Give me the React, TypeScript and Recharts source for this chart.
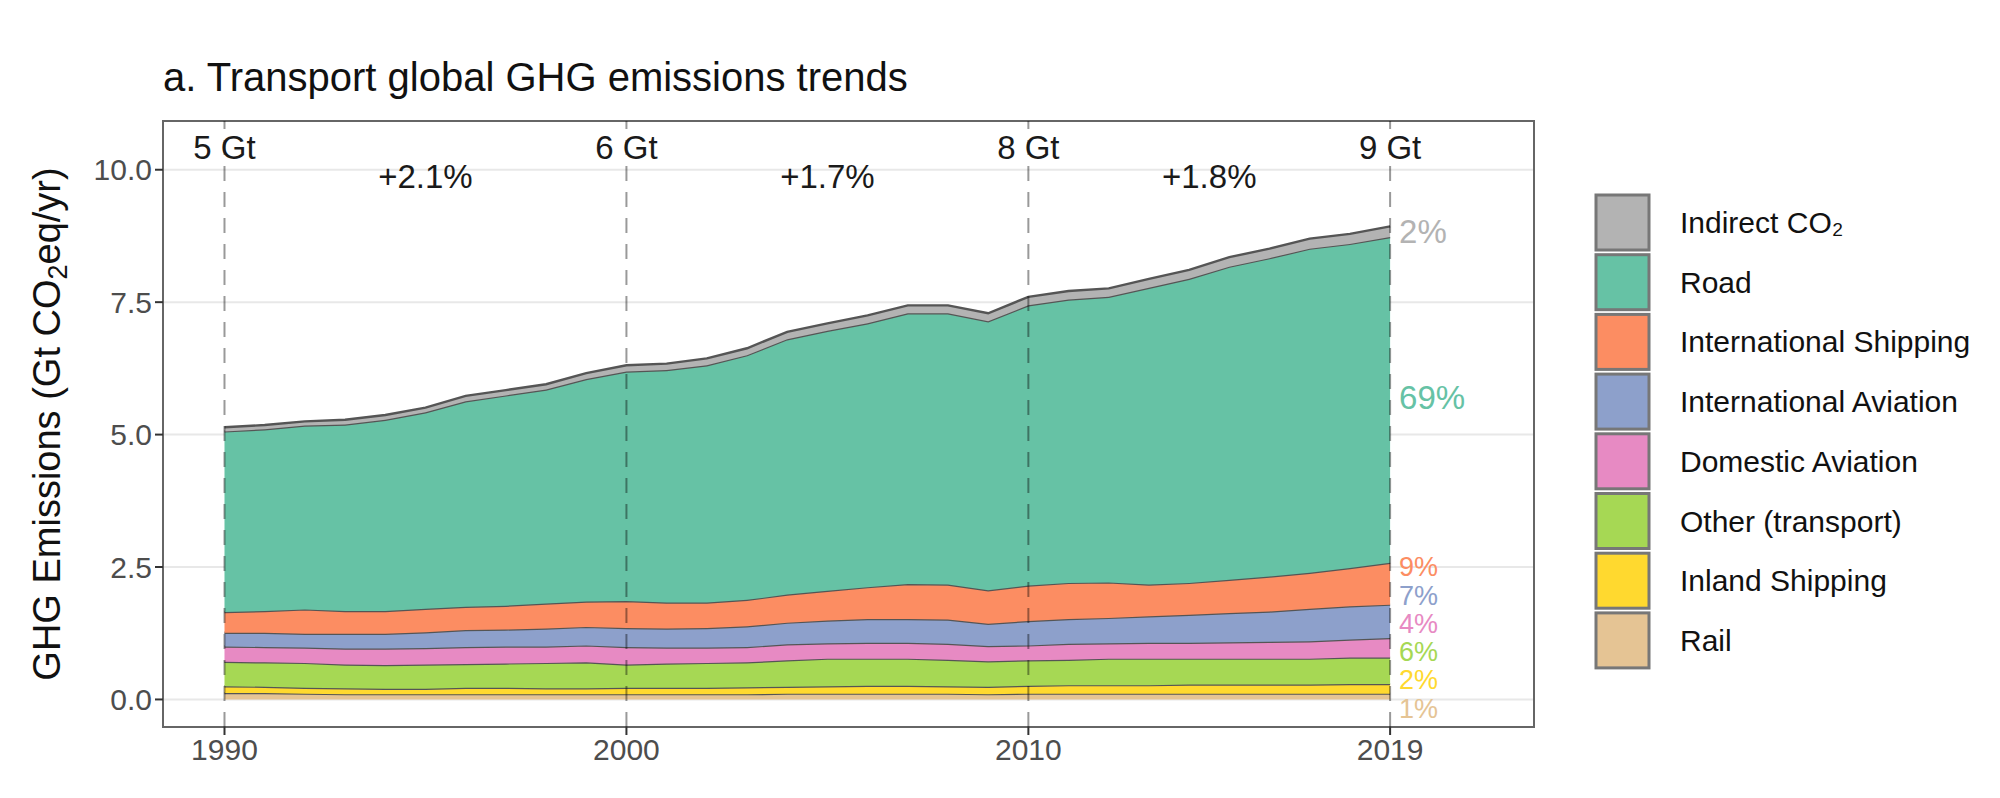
import {
  AreaChart,
  Area,
  XAxis,
  YAxis,
  CartesianGrid,
  ReferenceLine,
  ReferenceDot,
  ReferenceArea,
} from "recharts";

const years = [
  1990, 1991, 1992, 1993, 1994, 1995, 1996, 1997, 1998, 1999,
  2000, 2001, 2002, 2003, 2004, 2005, 2006, 2007, 2008, 2009,
  2010, 2011, 2012, 2013, 2014, 2015, 2016, 2017, 2018, 2019,
];

// Gt CO2eq/yr (bottom to top)
const rail = [
  0.12, 0.12, 0.11, 0.1, 0.1, 0.1, 0.1, 0.1, 0.1, 0.1,
  0.1, 0.1, 0.1, 0.1, 0.11, 0.11, 0.11, 0.11, 0.11, 0.1,
  0.11, 0.11, 0.11, 0.11, 0.11, 0.11, 0.11, 0.11, 0.11, 0.11,
];
const inlandShipping = [
  0.13, 0.12, 0.11, 0.11, 0.1, 0.1, 0.12, 0.12, 0.11, 0.11,
  0.12, 0.12, 0.12, 0.13, 0.13, 0.14, 0.15, 0.15, 0.14, 0.14,
  0.15, 0.16, 0.16, 0.16, 0.17, 0.17, 0.17, 0.17, 0.18, 0.18,
];
const otherTransport = [
  0.46, 0.46, 0.47, 0.45, 0.45, 0.46, 0.45, 0.46, 0.48, 0.49,
  0.44, 0.46, 0.47, 0.47, 0.5, 0.52, 0.51, 0.51, 0.5, 0.48,
  0.48, 0.48, 0.5, 0.5, 0.49, 0.49, 0.49, 0.49, 0.5, 0.5,
];
const domesticAviation = [
  0.29, 0.29, 0.29, 0.3, 0.31, 0.31, 0.32, 0.32, 0.31, 0.32,
  0.33, 0.3, 0.29, 0.29, 0.3, 0.29, 0.3, 0.3, 0.3, 0.29,
  0.28, 0.3, 0.29, 0.3, 0.3, 0.31, 0.32, 0.33, 0.34, 0.37,
];
const intlAviation = [
  0.26, 0.27, 0.26, 0.28, 0.28, 0.3, 0.32, 0.32, 0.34, 0.35,
  0.36, 0.36, 0.37, 0.39, 0.41, 0.43, 0.45, 0.45, 0.46, 0.42,
  0.46, 0.47, 0.48, 0.5, 0.53, 0.55, 0.57, 0.61, 0.63, 0.63,
];
const intlShipping = [
  0.39, 0.41, 0.46, 0.43, 0.43, 0.44, 0.44, 0.45, 0.47, 0.48,
  0.51, 0.49, 0.48, 0.5, 0.53, 0.56, 0.6, 0.66, 0.66, 0.63,
  0.67, 0.68, 0.67, 0.6, 0.6, 0.63, 0.66, 0.68, 0.72, 0.79,
];
const road = [
  3.41, 3.43, 3.47, 3.52, 3.61, 3.71, 3.88, 3.97, 4.04, 4.2,
  4.33, 4.39, 4.48, 4.62, 4.82, 4.91, 4.98, 5.11, 5.12, 5.08,
  5.29, 5.35, 5.39, 5.6, 5.74, 5.91, 6.01, 6.12, 6.12, 6.15,
];
const indirectCO2 = [
  0.08, 0.08, 0.08, 0.09, 0.09, 0.09, 0.1, 0.1, 0.1, 0.11,
  0.12, 0.12, 0.13, 0.13, 0.14, 0.14, 0.15, 0.15, 0.15, 0.15,
  0.16, 0.16, 0.16, 0.17, 0.17, 0.18, 0.18, 0.19, 0.19, 0.2,
];

// stacking order, bottom first
const seriesKeys = ["rail", "inland", "other", "domAv", "intAv", "intShip", "road", "indirect"];
const seriesNames = [
  "Rail",
  "Inland Shipping",
  "Other (transport)",
  "Domestic Aviation",
  "International Aviation",
  "International Shipping",
  "Road",
  "Indirect CO₂",
];
const seriesValues = [rail, inlandShipping, otherTransport, domesticAviation, intlAviation, intlShipping, road, indirectCO2];
const shares2019 = ["1%", "2%", "6%", "4%", "7%", "9%", "69%", "2%"];

const milestoneYears = [1990, 2000, 2010, 2019];
const milestoneTotals = ["5 Gt", "6 Gt", "8 Gt", "9 Gt"];
const growthMidYears = [1995, 2005, 2014.5];
const growthRates = ["+2.1%", "+1.7%", "+1.8%"];

const xTicks = [1990, 2000, 2010, 2019];
const yTicks = [0, 2.5, 5, 7.5, 10];

const colors = ["#e5c494", "#ffd92f", "#a6d854", "#e78ac3", "#8da0cb", "#fc8d62", "#66c2a5", "#b3b3b3"];

// label layout (y in data units)
const shareLabelY = [-0.17, 0.37, 0.9, 1.44, 1.97, 2.51, 5.71, 8.84];
const totalLabelY = 10.42;
const growthLabelY = 9.88;

const FONT = "'Liberation Sans', Arial, Helvetica, sans-serif";

const data = years.map((year, i) => {
  const row: Record<string, number> = { year };
  seriesKeys.forEach((k, s) => {
    row[k] = seriesValues[s][i];
  });
  return row;
});

const Overlay = () => {
  const legendOrder = [7, 6, 5, 4, 3, 2, 1, 0];
  return (
    <svg
      width={2000}
      height={798}
      style={{ position: "absolute", left: 0, top: 0, pointerEvents: "none" }}
    >
      <text x={163} y={91} fontSize={40} fill="#111" fontFamily={FONT}>
        a. Transport global GHG emissions trends
      </text>
      <text
        x={60}
        y={424}
        transform="rotate(-90 60 424)"
        textAnchor="middle"
        fontSize={38}
        fill="#111"
        fontFamily={FONT}
      >
        GHG Emissions (Gt CO
        <tspan fontSize={27} dy={7}>2</tspan>
        <tspan dy={-7}>eq/yr)</tspan>
      </text>
      {legendOrder.map((s, i) => (
        <g key={seriesKeys[s]}>
          <rect
            x={1596}
            y={195 + i * 59.7}
            width={53}
            height={55}
            fill={colors[s]}
            stroke="#777"
            strokeWidth={3}
          />
          <text
            x={1680}
            y={222.5 + i * 59.7}
            dominantBaseline="central"
            fontSize={30}
            fill="#111"
            fontFamily={FONT}
          >
            {seriesNames[s]}
          </text>
        </g>
      ))}
    </svg>
  );
};

export default function App() {
  return (
    <div
      style={{
        position: "absolute",
        left: 0,
        top: 0,
        width: 2000,
        height: 798,
        background: "#fff",
      }}
    >
      <AreaChart
        width={2000}
        height={798}
        data={data}
        margin={{ top: 121, right: 466, bottom: 21, left: 103 }}
      >
        <CartesianGrid vertical={false} stroke="#e8e8e8" strokeWidth={2} />
        <XAxis
          type="number"
          dataKey="year"
          domain={[1988.47, 2022.58]}
          allowDataOverflow
          ticks={xTicks}
          axisLine={false}
          tickLine={{ stroke: "#333", strokeWidth: 2 }}
          tickSize={8}
          tickMargin={4}
          height={50}
          tick={{ fill: "#4d4d4d", fontSize: 30, fontFamily: FONT }}
        />
        <YAxis
          type="number"
          domain={[-0.52, 10.92]}
          allowDataOverflow
          ticks={yTicks}
          tickFormatter={(v: number) => v.toFixed(1)}
          axisLine={false}
          tickLine={{ stroke: "#333", strokeWidth: 2 }}
          tickSize={8}
          tickMargin={3}
          width={60}
          tick={{ fill: "#4d4d4d", fontSize: 30, fontFamily: FONT }}
        />
        {seriesKeys.map((k, s) => (
          <Area
            key={k}
            type="linear"
            dataKey={k}
            name={seriesNames[s]}
            stackId="1"
            fill={colors[s]}
            fillOpacity={1}
            stroke="#555"
            strokeWidth={2.4}
            dot={false}
            activeDot={false}
            isAnimationActive={false}
          />
        ))}
        {milestoneYears.map((yr) => (
          <ReferenceLine
            key={`v${yr}`}
            x={yr}
            stroke="#000"
            strokeOpacity={0.4}
            strokeWidth={2}
            strokeDasharray="15 11"
          />
        ))}
        {milestoneYears.map((yr, i) => (
          <ReferenceDot
            key={`t${yr}`}
            x={yr}
            y={totalLabelY}
            r={0}
            fill="none"
            stroke="none"
            label={{
              value: milestoneTotals[i],
              position: "center",
              fill: "#1a1a1a",
              fontSize: 33,
              fontFamily: FONT,
            }}
          />
        ))}
        {growthMidYears.map((yr, i) => (
          <ReferenceDot
            key={`g${yr}`}
            x={yr}
            y={growthLabelY}
            r={0}
            fill="none"
            stroke="none"
            label={{
              value: growthRates[i],
              position: "center",
              fill: "#1a1a1a",
              fontSize: 33,
              fontFamily: FONT,
            }}
          />
        ))}
        {shares2019.map((txt, s) => (
          <ReferenceDot
            key={`s${s}`}
            x={2019}
            y={shareLabelY[s]}
            r={0}
            fill="none"
            stroke="none"
            label={{
              value: txt,
              position: "right",
              offset: 9,
              fill: colors[s],
              fontSize: s >= 6 ? 33 : 27,
              fontFamily: FONT,
            }}
          />
        ))}
        <ReferenceArea
          x1={1988.47}
          x2={2022.58}
          y1={-0.52}
          y2={10.92}
          fill="none"
          fillOpacity={0}
          stroke="#666"
          strokeWidth={2}
        />
      </AreaChart>
      <Overlay />
    </div>
  );
}
